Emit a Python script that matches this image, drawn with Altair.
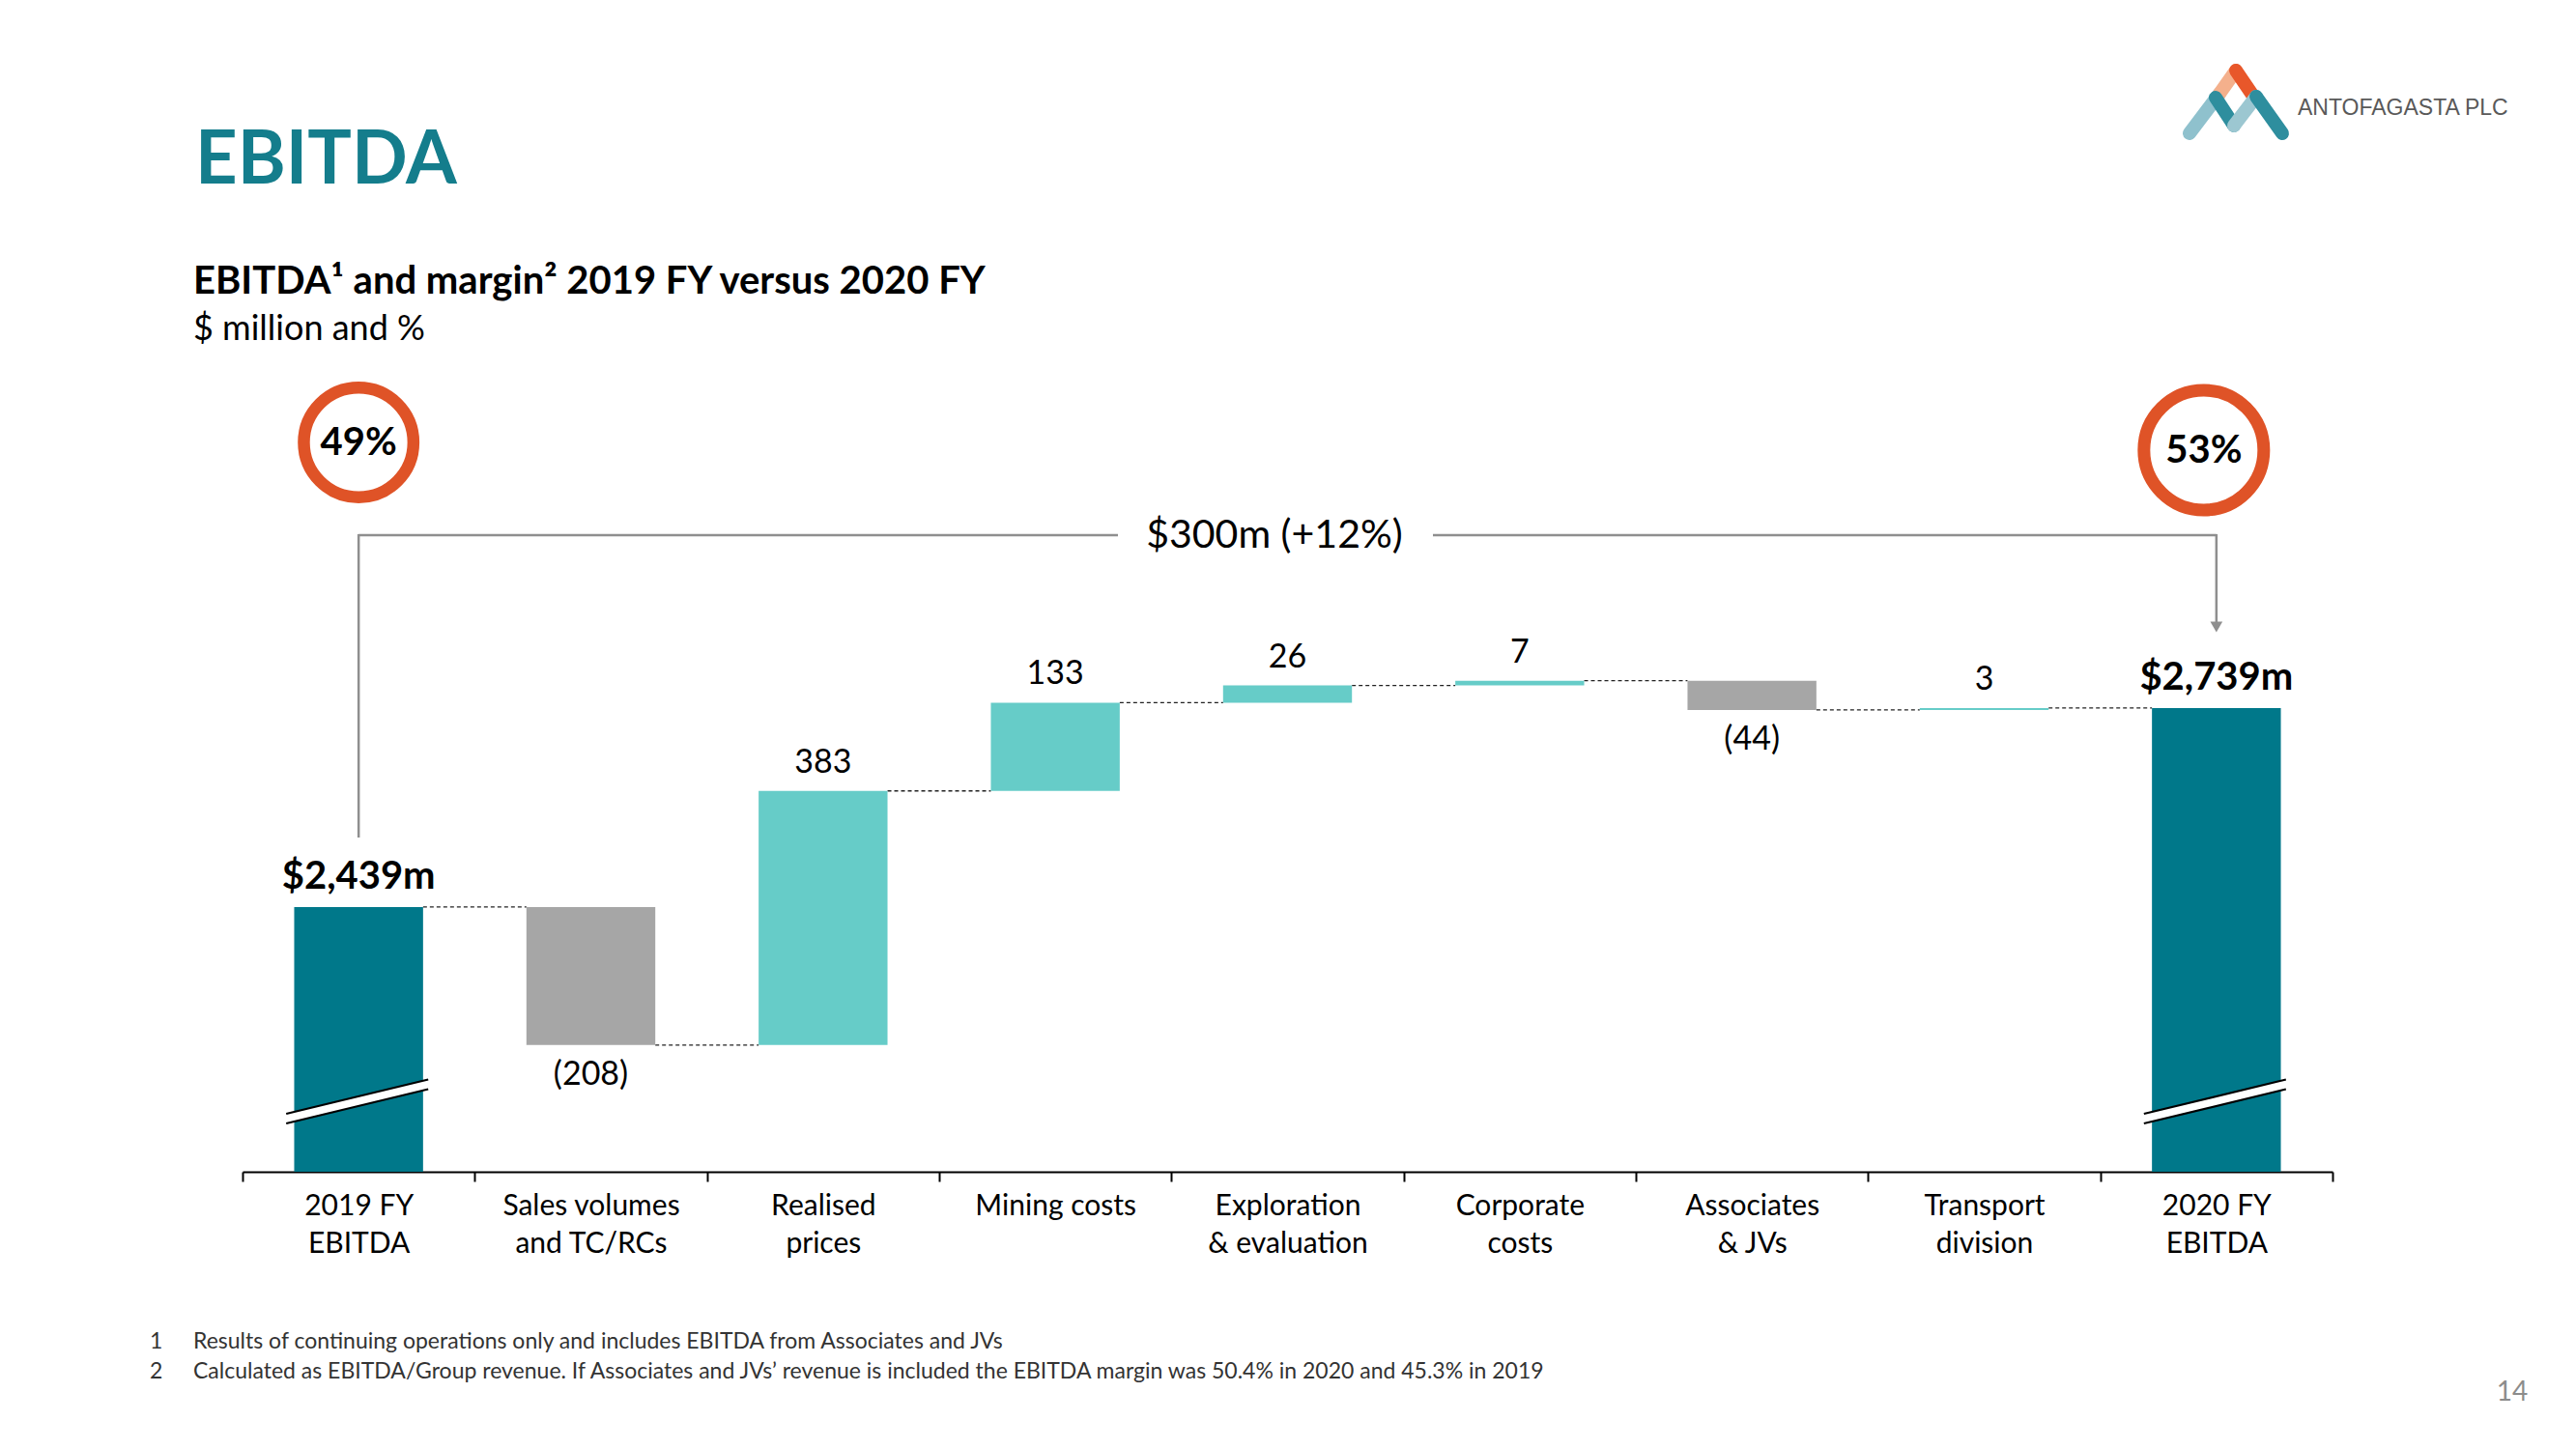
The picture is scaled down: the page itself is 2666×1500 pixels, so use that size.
import altair as alt
import pandas as pd

# ---------------- data ----------------
categories = ["2019 FY|EBITDA", "Sales volumes|and TC/RCs", "Realised|prices", "Mining costs",
              "Exploration|& evaluation", "Corporate|costs", "Associates|& JVs",
              "Transport|division", "2020 FY|EBITDA"]
start_total = 2439
changes = [-208, 383, 133, 26, 7, -44, 3]
end_total = 2739
total_labels = ["$2,439m", "$2,739m"]
margins = ["49%", "53%"]
delta_label = "$300m (+12%)"
footnotes = ["Results of continuing operations only and includes EBITDA from Associates and JVs",
             "Calculated as EBITDA/Group revenue. If Associates and JVs\u2019 revenue is included the EBITDA margin was 50.4% in 2020 and 45.3% in 2019"]

# ---------------- table ----------------
rows = [dict(cat=categories[0], lo=0, hi=start_total, kind="total", label=total_labels[0], end=start_total)]
running = start_total
for c, d in zip(categories[1:-1], changes):
    new = running + d
    rows.append(dict(cat=c, lo=min(running, new), hi=max(running, new),
                     kind="up" if d > 0 else "down",
                     label=str(d) if d > 0 else f"({-d})", end=new))
    running = new
rows.append(dict(cat=categories[-1], lo=0, hi=end_total, kind="total", label=total_labels[1], end=end_total))
df = pd.DataFrame(rows)
conn = pd.DataFrame({"cat": df["cat"][:-1].tolist(), "next": df["cat"][1:].tolist(),
                     "end": df["end"][:-1].tolist()})
circ = pd.DataFrame({"cat": [categories[0], categories[-1]], "pct": margins})

FONT = "Lato"
TEAL = "#00788A"
LIGHT = "#66CCC8"
GREY = "#A6A6A6"
ORANGE = "#DF5327"
LINEGREY = "#8F8F8F"

XRANGE = [251, 2414]
XS = alt.Scale(domain=categories, range=XRANGE, paddingInner=0.445, paddingOuter=0.2225)
XS_AXIS = alt.Scale(domain=categories, range=XRANGE, paddingInner=0, paddingOuter=0)
XA = alt.Axis(title=None, labelExpr="split(datum.label, '|')", labelAngle=0, labelFont=FONT,
              labelFontSize=30, labelColor="black", labelLineHeight=39, labelPadding=10, labelLimit=500,
              labelBaseline="top", tickBand="extent", tickSize=10, tickWidth=2, tickColor="black",
              domainColor="black", domainWidth=2, grid=False)
YS = alt.Scale(domain=[2040, 3806], nice=False, zero=False, clamp=True)


def X(field, **kw):
    return alt.X(f"{field}:N", scale=XS, axis=None, sort=categories, **kw)


def Y(field):
    return alt.Y(f"{field}:Q", scale=YS, axis=None)


one = pd.DataFrame({"a": [0]})


def txt(s, x, y, size, weight="normal", color="black", align="left", baseline="middle", font=FONT):
    return alt.Chart(pd.DataFrame({"t": [s]})).mark_text(
        align=align, baseline=baseline, fontSize=size, fontWeight=weight, color=color, font=font
    ).encode(x=alt.value(x), y=alt.value(y), text="t:N")


def seg(x, y, x2, y2, color, width, cap="butt"):
    return alt.Chart(one).mark_rule(color=color, strokeWidth=width, strokeCap=cap).encode(
        x=alt.value(x), y=alt.value(y), x2=alt.value(x2), y2=alt.value(y2))


base = alt.Chart(df)

# category axis (ticks on the boundaries between categories)
axis_layer = alt.Chart(pd.DataFrame({"cat": categories})).mark_point(opacity=0).encode(
    x=alt.X("cat:N", scale=XS_AXIS, axis=XA, sort=categories))

bars = base.mark_bar().encode(
    x=X("cat"), y=Y("lo"), y2="hi:Q",
    color=alt.Color("kind:N", scale=alt.Scale(domain=["total", "up", "down"], range=[TEAL, LIGHT, GREY]),
                    legend=None))

connectors = alt.Chart(conn).mark_rule(color="#222222", strokeWidth=1.3, strokeDash=[4, 3]).encode(
    x=X("cat", bandPosition=1), x2=alt.X2("next:N", bandPosition=0), y=Y("end"))

up_lbl = base.transform_filter("datum.kind == 'up'").mark_text(
    font=FONT, fontSize=34, dy=-29, baseline="middle", color="black").encode(x=X("cat"), y=Y("hi"), text="label:N")
down_lbl = base.transform_filter("datum.kind == 'down'").mark_text(
    font=FONT, fontSize=34, dy=31, baseline="middle", color="black").encode(x=X("cat"), y=Y("lo"), text="label:N")
tot_lbl = base.transform_filter("datum.kind == 'total'").mark_text(
    font=FONT, fontSize=40, fontWeight="bold", dy=-31, baseline="middle", color="black").encode(
    x=X("cat"), y=Y("hi"), text="label:N")

# axis break marks on the two total bars
tot = base.transform_filter("datum.kind == 'total'")
brk_white = tot.mark_rule(color="white", strokeWidth=10, xOffset=-75, x2Offset=72).encode(
    x=X("cat"), x2=alt.X2("cat:N"), y=alt.value(1158), y2=alt.value(1122.5))
brk_top = tot.mark_rule(color="black", strokeWidth=2.2, xOffset=-75, x2Offset=72).encode(
    x=X("cat"), x2=alt.X2("cat:N"), y=alt.value(1153), y2=alt.value(1117.5))
brk_bot = tot.mark_rule(color="black", strokeWidth=2.2, xOffset=-75, x2Offset=72).encode(
    x=X("cat"), x2=alt.X2("cat:N"), y=alt.value(1163), y2=alt.value(1127.5))

# margin circles (Vega circle symbol: radius = sqrt(size) / 2)
c_left = alt.Chart(circ.iloc[[0]]).mark_point(shape="circle", filled=False, stroke=ORANGE, strokeWidth=12.5,
                                              size=(2 * 56.7) ** 2, opacity=1).encode(
    x=X("cat"), y=alt.value(458))
c_right = alt.Chart(circ.iloc[[1]]).mark_point(shape="circle", filled=False, stroke=ORANGE, strokeWidth=13,
                                               size=(2 * 62) ** 2, opacity=1, xOffset=-13).encode(
    x=X("cat"), y=alt.value(466))
c_lt = alt.Chart(circ.iloc[[0]]).mark_text(font=FONT, fontSize=40, fontWeight="bold", color="black",
                                           baseline="middle").encode(x=X("cat"), y=alt.value(459), text="pct:N")
c_rt = alt.Chart(circ.iloc[[1]]).mark_text(font=FONT, fontSize=40, fontWeight="bold", color="black",
                                           baseline="middle", xOffset=-13).encode(x=X("cat"), y=alt.value(467),
                                                                                   text="pct:N")

# bracket with arrow
left_tot = base.transform_filter(f"datum.cat == '{categories[0]}'")
right_tot = base.transform_filter(f"datum.cat == '{categories[-1]}'")
br_lv = left_tot.mark_rule(color=LINEGREY, strokeWidth=2.5).encode(x=X("cat"), y=alt.value(553), y2=alt.value(867))
br_lh = left_tot.mark_rule(color=LINEGREY, strokeWidth=2.5).encode(x=X("cat"), x2=alt.value(1157),
                                                                     y=alt.value(554))
br_rh = right_tot.mark_rule(color=LINEGREY, strokeWidth=2.5).encode(x=X("cat"), x2=alt.value(1483),
                                                                      y=alt.value(554))
br_rv = right_tot.mark_rule(color=LINEGREY, strokeWidth=2.5).encode(x=X("cat"), y=alt.value(553), y2=alt.value(646))
arrow = right_tot.mark_point(shape="triangle-down", filled=True, color=LINEGREY, size=160, opacity=1).encode(
    x=X("cat"), y=alt.value(649))
delta_txt = txt(delta_label, 1319, 555, 41, align="center")

# titles
title = txt("EBITDA", 202, 190, 76, weight="bold", color="#147D8C", baseline="alphabetic")
sub1 = txt("EBITDA\u00b9 and margin\u00b2 2019 FY versus 2020 FY", 200, 304, 40, weight="bold", baseline="alphabetic")
sub2 = txt("$ million and %", 200, 352, 36, baseline="alphabetic")

# footnotes and page number
fn = [txt("1", 155, 1389, 23, color="#333333"), txt(footnotes[0], 200, 1389, 23, color="#333333"),
      txt("2", 155, 1420, 23, color="#333333"), txt(footnotes[1], 200, 1420, 23, color="#333333")]
page = txt("14", 2600, 1442, 28, color="#8C8C8C", align="center")

# logo
logo = [
    seg(2266, 138, 2297, 97, "#8FC1CD", 14, "round"),
    seg(2297, 97, 2314, 73, "#F4B08C", 14, "round"),
    seg(2314, 73, 2331, 98, "#E8572A", 14, "round"),
    seg(2293, 101, 2312, 130, "#2E8E9E", 14, "round"),
    seg(2312, 130, 2335, 100, "#9CC7D1", 14, "round"),
    seg(2335, 100, 2362, 138, "#2E8E9E", 14, "round"),
    txt("ANTOFAGASTA PLC", 2378, 112, 23, color="#595959", font="Liberation Sans"),
]

chart = alt.layer(
    axis_layer, connectors, bars, brk_white, brk_top, brk_bot,
    up_lbl, down_lbl, tot_lbl,
    c_left, c_right, c_lt, c_rt,
    br_lv, br_lh, br_rh, br_rv, arrow, delta_txt,
    title, sub1, sub2, page, *fn, *logo,
).resolve_scale(x="independent").properties(
    width=2666, height=1213,
    padding={"left": 0, "top": 0, "right": 0, "bottom": 287},
    autosize=alt.AutoSizeParams(type="none"),
    background="white",
).configure_view(strokeWidth=0)

chart.save("out.html", embed_options={"renderer": "svg", "actions": False})
